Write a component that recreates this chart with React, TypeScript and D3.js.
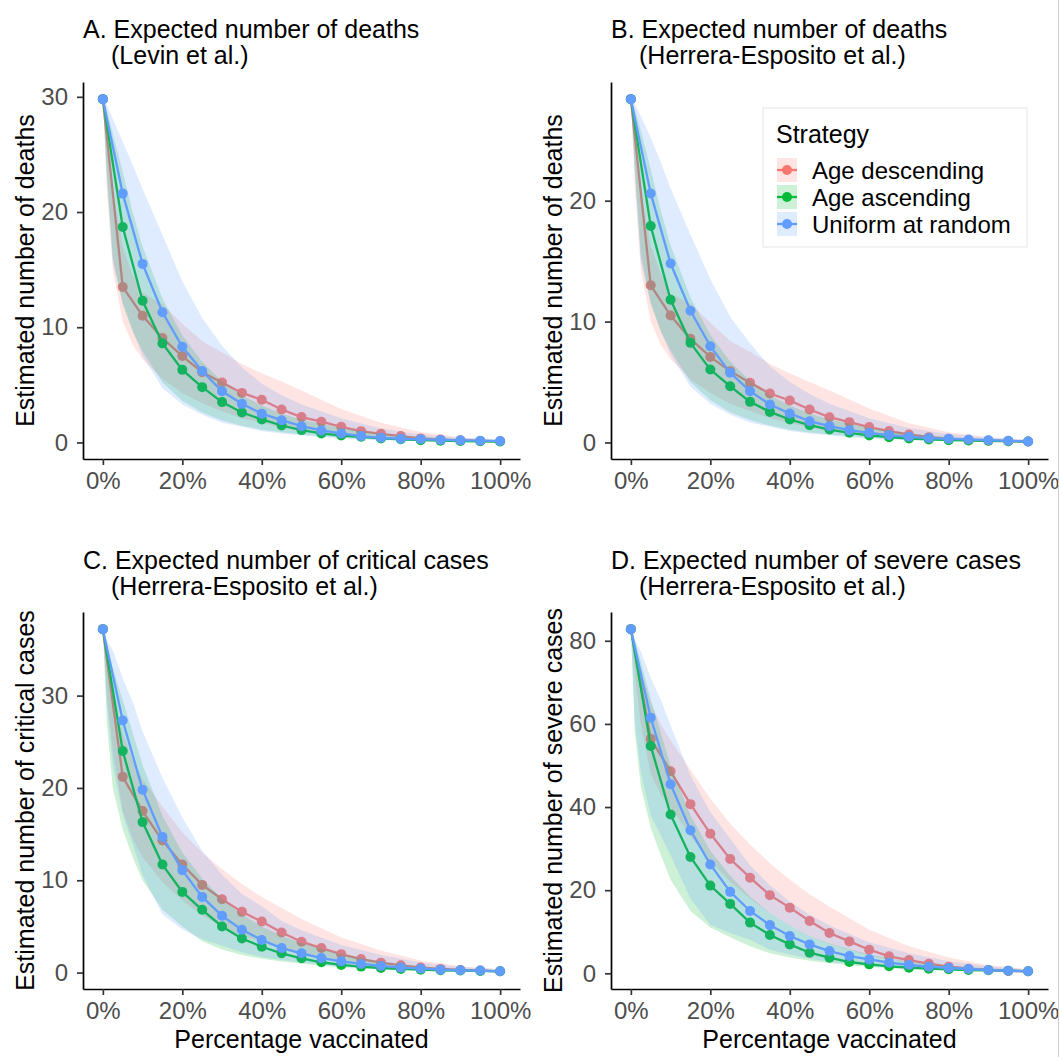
import { useEffect, useRef } from 'react'
import * as d3 from 'd3'

// share of population vaccinated at each simulated step
const pct = [0, 0.05, 0.1, 0.15, 0.2, 0.25, 0.3, 0.35, 0.4, 0.45, 0.5, 0.55, 0.6, 0.65, 0.7, 0.75, 0.8, 0.85, 0.9, 0.95, 1]
// finer grid used for the uncertainty bands
const bandPct = [0, 0.01, 0.025, 0.05, 0.075, 0.1, 0.15, 0.2, 0.25, 0.3, 0.35, 0.4, 0.45, 0.5, 0.6, 0.7, 0.8, 0.9, 1]

const strategies = ['Age descending', 'Age ascending', 'Uniform at random']
const colors = ['#F8766D', '#00BA38', '#619CFF']

const xTicks = [0, 0.2, 0.4, 0.6, 0.8, 1]

// A. deaths (Levin et al.)
const aDesc = [29.8, 13.5, 11.0, 9.06, 7.5, 6.1, 5.2, 4.3, 3.7, 2.86, 2.2, 1.8, 1.36, 0.98, 0.75, 0.55, 0.35, 0.25, 0.18, 0.13, 0.1]
const aAsc = [29.8, 18.7, 12.3, 8.6, 6.3, 4.8, 3.5, 2.6, 2.0, 1.47, 1.07, 0.78, 0.6, 0.49, 0.35, 0.27, 0.2, 0.15, 0.12, 0.1, 0.08]
const aUni = [29.8, 21.6, 15.5, 11.3, 8.3, 6.2, 4.44, 3.35, 2.5, 1.93, 1.41, 1.04, 0.78, 0.55, 0.4, 0.32, 0.27, 0.22, 0.18, 0.15, 0.12]
const aDescLo = [29.8, 22.0, 15.0, 10.5, 8.5, 7.2, 5.5, 4.3, 3.4, 2.7, 2.1, 1.7, 1.3, 1.0, 0.55, 0.3, 0.15, 0.08, 0.05]
const aDescHi = [29.8, 27.0, 22.0, 17.0, 14.5, 13.0, 12.0, 10.3, 8.8, 7.8, 6.8, 6.0, 5.3, 4.5, 2.9, 1.7, 0.9, 0.45, 0.2]
const aAscLo = [29.8, 23.0, 16.0, 12.0, 9.6, 7.9, 5.2, 3.6, 2.6, 1.9, 1.45, 1.1, 0.88, 0.68, 0.4, 0.24, 0.15, 0.1, 0.05]
const aAscHi = [29.8, 28.8, 26.8, 23.5, 20.0, 17.0, 12.5, 9.3, 7.0, 5.3, 4.1, 3.2, 2.5, 2.0, 1.25, 0.78, 0.47, 0.3, 0.2]
const aUniLo = [29.8, 23.4, 15.6, 12.1, 9.8, 7.5, 4.7, 3.3, 2.4, 1.7, 1.36, 0.98, 0.78, 0.6, 0.35, 0.2, 0.12, 0.08, 0.05]
const aUniHi = [29.8, 29.3, 28.1, 26.1, 24.1, 22.0, 18.0, 14.0, 10.8, 8.4, 6.5, 5.1, 4.1, 3.3, 2.1, 1.2, 0.7, 0.4, 0.25]

// B. deaths (Herrera-Esposito et al.)
const bDesc = [28.4, 13.0, 10.5, 8.57, 7.08, 5.9, 4.93, 4.05, 3.47, 2.73, 2.09, 1.68, 1.27, 0.94, 0.66, 0.44, 0.3, 0.19, 0.14, 0.11, 0.08]
const bAsc = [28.4, 17.9, 11.8, 8.24, 6.03, 4.65, 3.36, 2.53, 1.9, 1.43, 1.07, 0.8, 0.58, 0.44, 0.33, 0.25, 0.19, 0.17, 0.14, 0.11, 0.08]
const bUni = [28.4, 20.6, 14.8, 10.9, 7.96, 5.76, 4.24, 3.14, 2.4, 1.76, 1.35, 1.02, 0.8, 0.61, 0.47, 0.36, 0.3, 0.25, 0.19, 0.14, 0.08]
const bDescLo = [28.4, 21.0, 14.3, 10.0, 8.1, 6.9, 5.2, 4.1, 3.2, 2.6, 2.0, 1.6, 1.25, 0.95, 0.52, 0.28, 0.14, 0.08, 0.05]
const bDescHi = [28.4, 26.0, 21.0, 16.3, 14.0, 12.3, 11.5, 9.9, 8.4, 7.5, 6.5, 5.7, 5.0, 4.3, 2.8, 1.6, 0.85, 0.45, 0.2]
const bAscLo = [28.4, 22.5, 15.5, 11.5, 9.2, 7.6, 5.0, 3.5, 2.5, 1.85, 1.4, 1.05, 0.82, 0.65, 0.38, 0.23, 0.14, 0.09, 0.05]
const bAscHi = [28.4, 27.6, 25.8, 22.6, 19.2, 16.3, 12.0, 8.9, 6.7, 5.1, 3.9, 3.05, 2.4, 1.9, 1.2, 0.75, 0.45, 0.29, 0.18]
const bUniLo = [28.4, 22.5, 15.0, 11.5, 9.3, 7.3, 4.6, 3.2, 2.3, 1.65, 1.3, 0.95, 0.75, 0.58, 0.33, 0.2, 0.12, 0.08, 0.05]
const bUniHi = [28.4, 28.0, 27.0, 25.2, 23.2, 21.0, 17.2, 13.5, 10.4, 8.2, 6.3, 5.0, 4.0, 3.2, 2.0, 1.2, 0.7, 0.4, 0.25]

// C. critical cases (Herrera-Esposito et al.)
const cDesc = [37.2, 21.2, 17.5, 14.3, 11.7, 9.5, 7.95, 6.58, 5.54, 4.35, 3.35, 2.66, 2.0, 1.47, 1.08, 0.79, 0.54, 0.4, 0.29, 0.22, 0.14]
const cAsc = [37.2, 24.0, 16.3, 11.7, 8.74, 6.8, 5.0, 3.7, 2.8, 2.09, 1.55, 1.12, 0.83, 0.65, 0.5, 0.4, 0.32, 0.25, 0.22, 0.18, 0.14]
const cUni = [37.2, 27.3, 19.8, 14.7, 11.1, 8.2, 6.15, 4.64, 3.53, 2.66, 2.09, 1.58, 1.22, 0.94, 0.72, 0.54, 0.43, 0.32, 0.25, 0.22, 0.14]
const cDescLo = [37.2, 30.0, 24.0, 17.5, 14.5, 12.5, 9.8, 7.8, 6.2, 5.0, 4.0, 3.3, 2.5, 1.9, 1.1, 0.6, 0.3, 0.15, 0.08]
const cDescHi = [37.2, 34.0, 30.0, 26.0, 23.0, 21.0, 18.0, 15.2, 13.0, 11.2, 9.6, 8.2, 7.0, 5.8, 3.8, 2.4, 1.3, 0.7, 0.35]
const cAscLo = [37.2, 27.0, 20.0, 15.5, 12.5, 10.0, 6.8, 5.0, 3.4, 2.5, 1.9, 1.5, 1.2, 0.95, 0.55, 0.35, 0.2, 0.12, 0.08]
const cAscHi = [37.2, 35.5, 33.0, 29.5, 26.0, 22.5, 17.0, 13.0, 10.2, 8.0, 6.3, 5.0, 4.0, 3.2, 2.0, 1.2, 0.7, 0.4, 0.25]
const cUniLo = [37.2, 29.0, 22.5, 17.1, 13.9, 10.6, 6.3, 4.7, 3.6, 2.9, 2.2, 1.7, 1.37, 1.1, 0.65, 0.4, 0.22, 0.12, 0.08]
const cUniHi = [37.2, 36.0, 34.9, 31.9, 29.3, 26.1, 21.1, 16.8, 13.2, 10.6, 8.5, 7.2, 5.6, 4.6, 3.0, 1.9, 1.1, 0.6, 0.35]

// D. severe cases (Herrera-Esposito et al.)
const dDesc = [82.8, 56.4, 48.6, 40.7, 33.6, 27.5, 23.0, 18.8, 15.8, 12.6, 9.68, 7.68, 5.68, 4.08, 3.2, 2.32, 1.6, 1.12, 0.8, 0.56, 0.48]
const dAsc = [82.8, 54.7, 38.2, 28.0, 21.1, 16.7, 12.2, 9.2, 6.96, 4.96, 3.76, 2.72, 2.16, 1.68, 1.36, 1.12, 0.96, 0.8, 0.72, 0.64, 0.48]
const dUni = [82.8, 61.5, 45.5, 34.4, 26.2, 19.6, 15.0, 11.6, 8.96, 6.96, 5.36, 4.16, 3.36, 2.56, 2.0, 1.6, 1.28, 1.04, 0.8, 0.64, 0.48]
const dDescLo = [82.8, 72.0, 60.0, 48.0, 43.0, 40.0, 33.0, 27.0, 22.0, 18.0, 14.5, 11.5, 9.0, 7.0, 4.2, 2.4, 1.3, 0.7, 0.35]
const dDescHi = [82.8, 79.0, 73.0, 65.0, 60.0, 56.0, 49.0, 42.0, 36.0, 31.0, 26.5, 22.5, 19.0, 16.0, 10.5, 6.5, 3.8, 2.0, 1.0]
const dAscLo = [82.8, 58.0, 45.0, 35.0, 28.5, 22.5, 15.0, 11.0, 8.7, 6.5, 4.8, 3.8, 3.0, 2.4, 1.5, 1.0, 0.7, 0.5, 0.35]
const dAscHi = [82.8, 80.0, 75.0, 66.0, 58.0, 50.0, 38.0, 29.5, 23.5, 18.5, 14.5, 11.5, 9.0, 7.2, 4.5, 2.8, 1.8, 1.2, 0.8]
const dUniLo = [82.8, 60.4, 48.4, 38.0, 33.2, 28.4, 18.0, 11.7, 9.7, 8.1, 5.7, 4.5, 3.5, 2.8, 1.8, 1.1, 0.7, 0.5, 0.35]
const dUniHi = [82.8, 80.3, 77.5, 71.1, 65.9, 59.6, 47.6, 38.8, 32.4, 26.0, 21.2, 17.2, 14.1, 11.5, 7.5, 4.8, 2.9, 1.7, 0.9]

const aTicks = [0, 10, 20, 30]
const bTicks = [0, 10, 20]
const cTicks = [0, 10, 20, 30]
const dTicks = [0, 20, 40, 60, 80]

const FONT = '"Liberation Sans", Arial, Helvetica, sans-serif'
const TEXT_SIZE = 25

const panels = [
  {
    title: 'A. Expected number of deaths', sub: '(Levin et al.)', yTitle: 'Estimated number of deaths',
    mid: [aDesc, aAsc, aUni], lo: [aDescLo, aAscLo, aUniLo], hi: [aDescHi, aAscHi, aUniHi], ticks: aTicks,
    x0: 83, x1: 520, y0: 82, y1: 459, titleY: 38, xTitle: false
  },
  {
    title: 'B. Expected number of deaths', sub: '(Herrera-Esposito et al.)', yTitle: 'Estimated number of deaths',
    mid: [bDesc, bAsc, bUni], lo: [bDescLo, bAscLo, bUniLo], hi: [bDescHi, bAscHi, bUniHi], ticks: bTicks,
    x0: 611, x1: 1048, y0: 82, y1: 459, titleY: 38, xTitle: false
  },
  {
    title: 'C. Expected number of critical cases', sub: '(Herrera-Esposito et al.)', yTitle: 'Estimated number of critical cases',
    mid: [cDesc, cAsc, cUni], lo: [cDescLo, cAscLo, cUniLo], hi: [cDescHi, cAscHi, cUniHi], ticks: cTicks,
    x0: 83, x1: 520, y0: 612, y1: 989, titleY: 569, xTitle: true
  },
  {
    title: 'D. Expected number of severe cases', sub: '(Herrera-Esposito et al.)', yTitle: 'Estimated number of severe cases',
    mid: [dDesc, dAsc, dUni], lo: [dDescLo, dAscLo, dUniLo], hi: [dDescHi, dAscHi, dUniHi], ticks: dTicks,
    x0: 611, x1: 1048, y0: 612, y1: 989, titleY: 569, xTitle: true
  }
]

const styleAxis = (ax) => {
  ax.attr('font-family', FONT).attr('font-size', 24)
  ax.select('.domain').attr('stroke', '#000').attr('stroke-width', 1.7)
  ax.selectAll('.tick line').attr('stroke', '#333').attr('stroke-width', 1.7)
  ax.selectAll('.tick text').attr('fill', '#4D4D4D')
}

const drawPanel = (svg, p) => {
  const all = [...p.mid.flat(), ...p.lo.flat(), ...p.hi.flat()]
  const lo = d3.min(all)
  const hi = d3.max(all)
  const pad = (hi - lo) * 0.05
  const x = d3.scaleLinear().domain([-0.05, 1.05]).range([p.x0, p.x1])
  const y = d3.scaleLinear().domain([lo - pad, hi + pad]).range([p.y1, p.y0])

  const g = svg.append('g')

  p.mid.forEach((vals, i) => {
    const band = bandPct.map((v, j) => ({ v, lo: p.lo[i][j], hi: p.hi[i][j] }))
    g.append('path')
      .datum(band)
      .attr('d', d3.area().x((d) => x(d.v)).y0((d) => y(d.lo)).y1((d) => y(d.hi)))
      .attr('fill', colors[i])
      .attr('fill-opacity', 0.2)

    const pts = pct.map((v, j) => ({ v, val: vals[j] }))
    g.append('path')
      .datum(pts)
      .attr('d', d3.line().x((d) => x(d.v)).y((d) => y(d.val)))
      .attr('fill', 'none')
      .attr('stroke', colors[i])
      .attr('stroke-width', 2.3)

    g.append('g')
      .selectAll('circle')
      .data(pts)
      .enter()
      .append('circle')
      .attr('cx', (d) => x(d.v))
      .attr('cy', (d) => y(d.val))
      .attr('r', 5)
      .attr('fill', colors[i])
  })

  const yAx = g.append('g')
    .attr('transform', `translate(${p.x0},0)`)
    .call(d3.axisLeft(y).tickValues(p.ticks).tickSize(6).tickSizeOuter(0).tickPadding(9).tickFormat(d3.format('d')))
  styleAxis(yAx)

  const xAx = g.append('g')
    .attr('transform', `translate(0,${p.y1})`)
    .call(d3.axisBottom(x).tickValues(xTicks).tickSize(6).tickSizeOuter(0).tickPadding(7).tickFormat(d3.format('.0%')))
  styleAxis(xAx)

  // two-line panel title
  g.append('text')
    .attr('x', p.x0)
    .attr('y', p.titleY)
    .attr('font-size', TEXT_SIZE)
    .text(p.title)
  g.append('text')
    .attr('x', p.x0 + 28)
    .attr('y', p.titleY + 26)
    .attr('font-size', TEXT_SIZE)
    .text(p.sub)

  g.append('text')
    .attr('transform', `translate(${p.x0 - 49},${(p.y0 + p.y1) / 2}) rotate(-90)`)
    .attr('text-anchor', 'middle')
    .attr('font-size', TEXT_SIZE)
    .text(p.yTitle)

  if (p.xTitle) {
    g.append('text')
      .attr('x', (p.x0 + p.x1) / 2)
      .attr('y', 1048)
      .attr('text-anchor', 'middle')
      .attr('font-size', TEXT_SIZE)
      .text('Percentage vaccinated')
  }
}

const drawLegend = (svg) => {
  const lg = svg.append('g').attr('transform', 'translate(763,108)')
  lg.append('rect')
    .attr('width', 264)
    .attr('height', 139)
    .attr('fill', '#fff')
    .attr('stroke', '#E6E6E6')
    .attr('stroke-width', 1)
  lg.append('text').attr('x', 13).attr('y', 35).attr('font-size', TEXT_SIZE).text('Strategy')

  strategies.forEach((s, i) => {
    const cy = 62 + i * 27
    lg.append('rect')
      .attr('x', 14).attr('y', cy - 12).attr('width', 20).attr('height', 24)
      .attr('fill', colors[i]).attr('fill-opacity', 0.2)
    lg.append('line')
      .attr('x1', 14).attr('x2', 34).attr('y1', cy).attr('y2', cy)
      .attr('stroke', colors[i]).attr('stroke-width', 2.3)
    lg.append('circle').attr('cx', 24).attr('cy', cy).attr('r', 5).attr('fill', colors[i])
    lg.append('text').attr('x', 49).attr('y', cy + 8.5).attr('font-size', 24).text(s)
  })
}

const App = () => {
  const ref = useRef(null)

  useEffect(() => {
    const svg = d3.select(ref.current)
    svg.selectAll('*').remove()
    svg.append('rect').attr('width', 1060).attr('height', 1057).attr('fill', '#fff')
    panels.forEach((p) => drawPanel(svg, p))
    drawLegend(svg)
    // thin frame line on the right edge of the original image
    svg.append('line')
      .attr('x1', 1058.5).attr('x2', 1058.5).attr('y1', 0).attr('y2', 1057)
      .attr('stroke', '#cfcfcf').attr('stroke-width', 1)
  }, [])

  return (
    <svg
      ref={ref}
      width={1060}
      height={1057}
      fontFamily={FONT}
      style={{ position: 'absolute', left: 0, top: 0, display: 'block' }}
    />
  )
}

export default App
